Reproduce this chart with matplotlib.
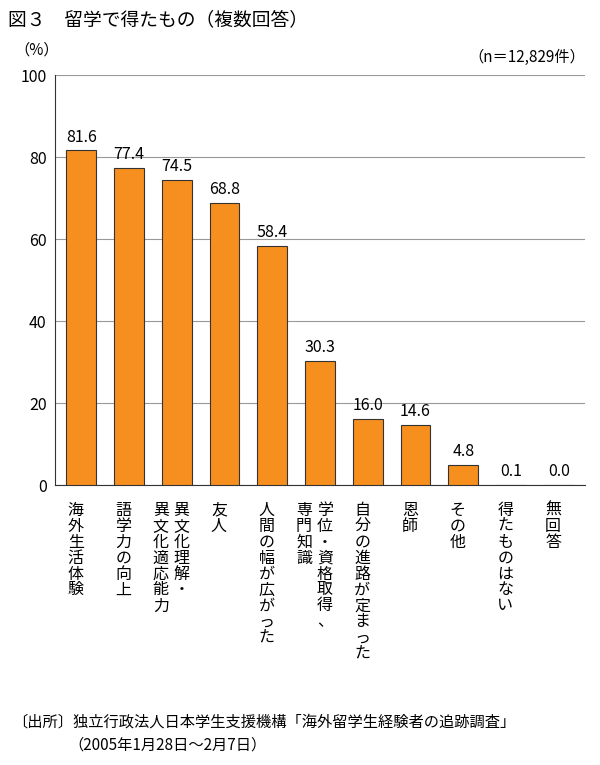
import matplotlib
matplotlib.use("Agg")
import matplotlib.pyplot as plt
from matplotlib.transforms import offset_copy

plt.rcParams["font.family"] = "Noto Sans CJK JP"

categories = ["海外生活体験", "語学力の向上", "異文化理解・|異文化適応能力", "友人",
              "人間の幅が広がった", "学位・資格取得、|専門知識", "自分の進路が定まった",
              "恩師", "その他", "得たものはない", "無回答"]
values = [81.6, 77.4, 74.5, 68.8, 58.4, 30.3, 16.0, 14.6, 4.8, 0.1, 0.0]
yticks = [0, 20, 40, 60, 80, 100]

fig = plt.figure(figsize=(6.0, 7.65), dpi=100)
ax = fig.add_axes([55/600, 1-485/765, 530/600, 410/765])
x = list(range(len(values)))
ax.bar(x, values, width=0.62, color="#F78F1E", edgecolor="#333333", linewidth=0.8, zorder=3)
for xi, v in zip(x, values):
    ax.text(xi, v + 1.2, f"{v:.1f}", ha="center", va="bottom", fontsize=11.5, zorder=4)
ax.set_xlim(-0.55, len(values) - 0.45)
ax.set_ylim(0, 100)
ax.set_yticks(yticks)
ax.set_yticklabels([str(t) for t in yticks], fontsize=11.5)
ax.yaxis.grid(True, color="#999999", linewidth=0.8, zorder=0)
ax.set_xticks([])
for s in ["top", "right"]:
    ax.spines[s].set_visible(False)
ax.spines["left"].set_color("#333333")
ax.spines["bottom"].set_color("#333333")
ax.tick_params(axis="y", length=0, pad=6)

for xi, lab in zip(x, categories):
    cols = lab.split("|")
    n = len(cols)
    for ci, col in enumerate(cols):
        off = (n - 1) * 7.5 - ci * 15
        tr = offset_copy(ax.get_xaxis_transform(), fig=fig, x=off - 4, y=-12, units="points")
        ax.text(xi, 0, "\n".join(col), transform=tr, ha="center", va="top",
                fontsize=11.5, linespacing=0.92)

fig.text(8/600, 1-20/765, "図３　留学で得たもの（複数回答）", fontsize=13.5, va="center", ha="left")
fig.text(14/600, 1-50/765, "（%）", fontsize=11, va="center", ha="left")
fig.text(585/600, 1-57/765, "（n＝12,829件）", fontsize=11, va="center", ha="right")
fig.text(12/600, 1-722/765, "〔出所〕独立行政法人日本学生支援機構「海外留学生経験者の追跡調査」", fontsize=11, va="center", ha="left")
fig.text(68/600, 1-745/765, "（2005年1月28日～2月7日）", fontsize=11, va="center", ha="left")

fig.savefig("out.png", dpi=100)
